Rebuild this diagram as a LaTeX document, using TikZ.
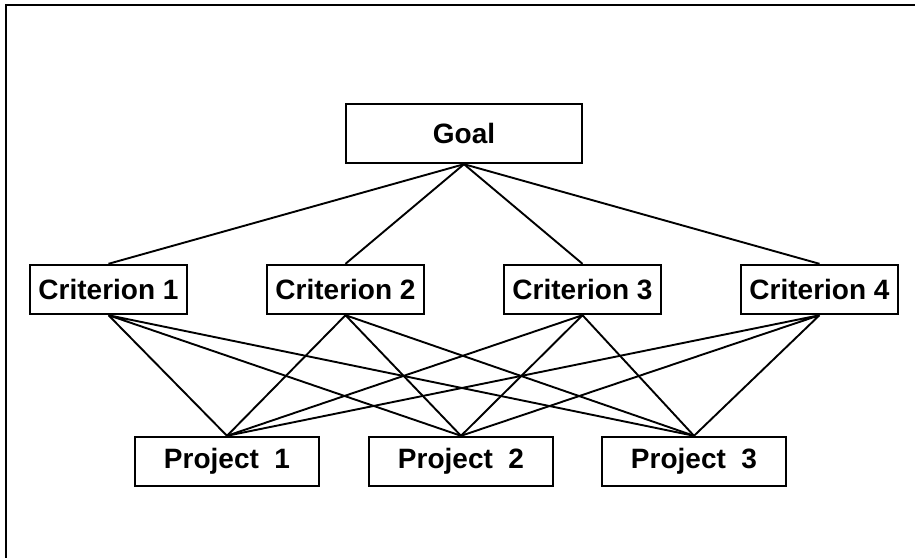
\documentclass[tikz,border=0pt]{standalone}
\usepackage{fontspec}
\setmainfont{Liberation Sans}
\usetikzlibrary{trees,positioning}

\begin{document}
\begin{tikzpicture}[
        x=1pt, y=1pt,
        grow=down,
        level 1/.style = {sibling distance=237pt},
        level distance=156pt,
        every node/.style={font=\fontsize{28}{33}\selectfont\bfseries},
        box/.style={draw, line width=2.4pt, rectangle, inner xsep=8.5pt, minimum height=49pt},
        goalbox/.style={box, minimum width=236pt, minimum height=59pt},
        projbox/.style={box, minimum width=184pt},
        link/.style={line width=1.9pt},
        edge from parent/.style={draw, link},
        edge from parent path={(\tikzparentnode.south) -- (\tikzchildnode.north)}
    ]
 \useasboundingbox (0,0) rectangle (915,-557);
 \clip (0,0) rectangle (915,-557);
 \draw[line width=2.6pt] (6,-5) rectangle (940,-580);

 \node[goalbox] (goal) at (464,-133.5) {Goal}
     child {  node[box] (c1) {Criterion 1} }
     child {  node[box] (c2) {Criterion 2} }
     child {  node[box] (c3) {Criterion 3} }
     child {  node[box] (c4) {Criterion 4} };

 \node[projbox] (p1) at (227,-461.5) {Project~~1};
 \node[projbox] (p2) at (461,-461.5) {Project~~2};
 \node[projbox] (p3) at (694,-461.5) {Project~~3};

 % every criterion feeds every project
 \draw[link] (c1.south) -- (p1.north)  (c1.south) -- (p2.north)  (c1.south) -- (p3.north);
 \draw[link] (c2.south) -- (p1.north)  (c2.south) -- (p2.north)  (c2.south) -- (p3.north);
 \draw[link] (c3.south) -- (p1.north)  (c3.south) -- (p2.north)  (c3.south) -- (p3.north);
 \draw[link] (c4.south) -- (p1.north)  (c4.south) -- (p2.north)  (c4.south) -- (p3.north);
\end{tikzpicture}
\end{document}
